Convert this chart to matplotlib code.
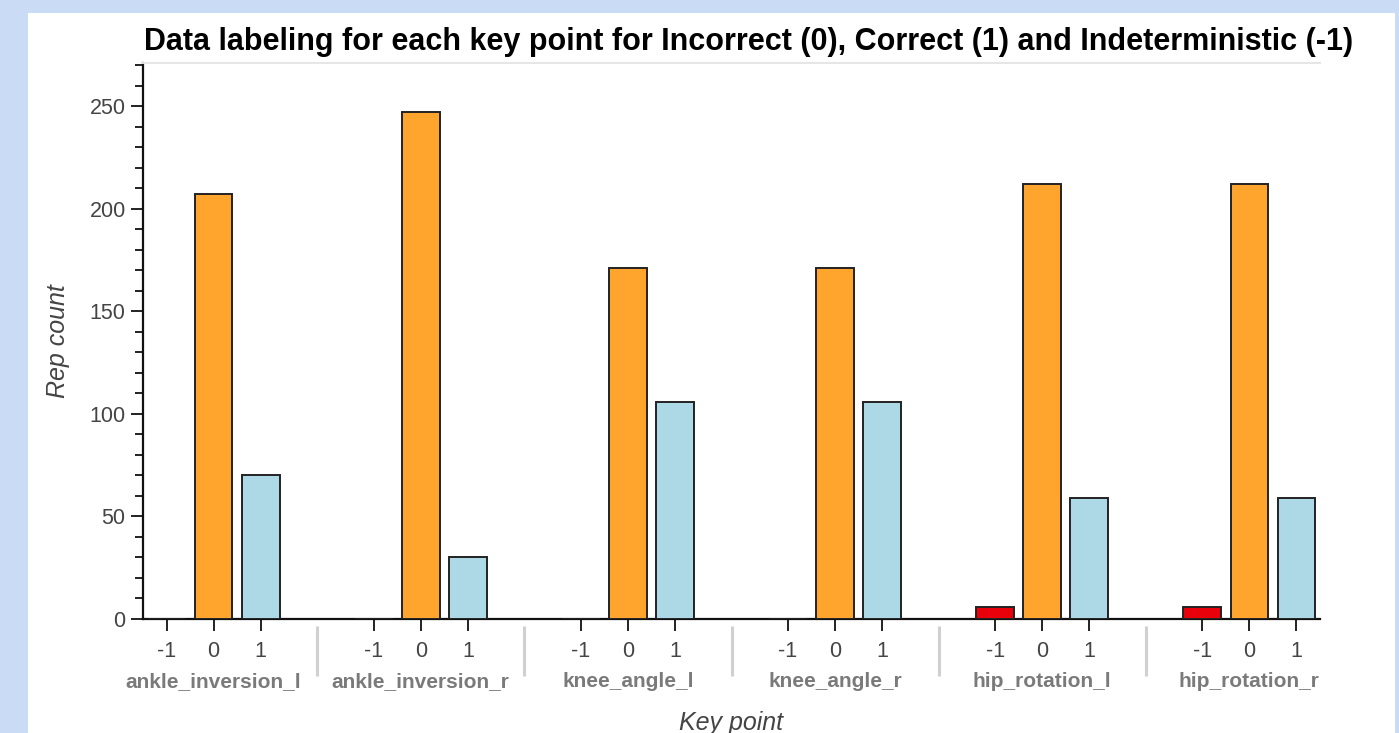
import numpy as np
import matplotlib.pyplot as plt
from matplotlib.patches import Rectangle
from matplotlib.ticker import MultipleLocator
import matplotlib.transforms as mtransforms

plt.rcParams['font.family'] = ['Liberation Sans', 'DejaVu Sans']

# data
key_points = ['ankle_inversion_l', 'ankle_inversion_r', 'knee_angle_l',
              'knee_angle_r', 'hip_rotation_l', 'hip_rotation_r']
labels = ['-1', '0', '1']
counts_neg1 = [0, 0, 0, 0, 6, 6]
counts_0 = [207, 247, 171, 171, 212, 212]
counts_1 = [70, 30, 106, 106, 59, 59]
colors = ['#e8000b', '#ffa42c', '#add8e6']

W, H = 1399, 733
fig = plt.figure(figsize=(W / 100, H / 100), dpi=100)
fig.patch.set_facecolor('#c9dbf5')
# white panel
fig.patches.append(Rectangle((28 / W, 0), (1395 - 28) / W, (H - 13) / H,
                             transform=fig.transFigure, facecolor='white',
                             edgecolor='none', zorder=-10))

ax_l, ax_r, ax_t, ax_b = 143, 1320, 63, 619
ax = fig.add_axes([ax_l / W, (H - ax_b) / H, (ax_r - ax_l) / W, (ax_b - ax_t) / H])
ax.set_facecolor('white')

group_pad = 1.4
step = len(labels) + group_pad
series = [counts_neg1, counts_0, counts_1]
xticks, xlabels = [], []
for g, kp in enumerate(key_points):
    for i, lab in enumerate(labels):
        x = g * step + i
        ax.bar(x, series[i][g], width=0.8, color=colors[i],
               edgecolor='#222222', linewidth=1.4, zorder=3)
        xticks.append(x)
        xlabels.append(lab)

ax.set_xlim(-0.5, (len(key_points) - 1) * step + len(labels) - 0.5)
ax.set_ylim(0, 271)
ax.set_xticks(xticks)
ax.set_xticklabels(xlabels)
ax.yaxis.set_major_locator(MultipleLocator(50))
ax.yaxis.set_minor_locator(MultipleLocator(10))

ax.tick_params(axis='both', which='major', direction='out', length=8.5, width=1.4,
               color='#222222', labelsize=15.5, labelcolor='#444444')
ax.tick_params(axis='x', which='major', pad=7)
ax.tick_params(axis='y', which='major', pad=4)
ax.tick_params(axis='y', which='minor', direction='out', length=6, width=1.4,
               color='#222222')
ax.tick_params(axis='x', which='minor', length=0)

for s in ['left', 'bottom']:
    ax.spines[s].set_linewidth(1.6)
    ax.spines[s].set_color('#111111')
ax.spines['top'].set_color('#e6e6e6')
ax.spines['top'].set_linewidth(1.4)
ax.spines['right'].set_visible(False)

# group labels and separators
trans = mtransforms.blended_transform_factory(ax.transData, ax.transAxes)
for g, kp in enumerate(key_points):
    cx = g * step + (len(labels) - 1) / 2
    ax.text(cx, -0.112, kp, transform=trans, ha='center', va='center',
            fontsize=15, fontweight='bold', color='#7a7a7a', clip_on=False)
    if g > 0:
        sx = g * step - group_pad / 2 - 0.5
        ax.plot([sx, sx], [-0.0126, -0.1025], transform=trans, color='#d0d0d0',
                linewidth=2.2, clip_on=False, solid_capstyle='butt')

ax.set_ylabel('Rep count', fontsize=18, fontstyle='italic', color='#444444',
              labelpad=14)
fig.text((ax_l + ax_r) / 2 / W, 3 / H, 'Key point', ha='center', va='baseline',
         fontsize=18, fontstyle='italic', color='#444444')

fig.text(749 / W, 1 - 42 / H,
         'Data labeling for each key point for Incorrect (0), Correct (1) and Indeterministic (-1)',
         ha='center', va='center', fontsize=22, fontweight='bold', color='black')

fig.savefig('out.png', dpi=100, facecolor=fig.get_facecolor())
